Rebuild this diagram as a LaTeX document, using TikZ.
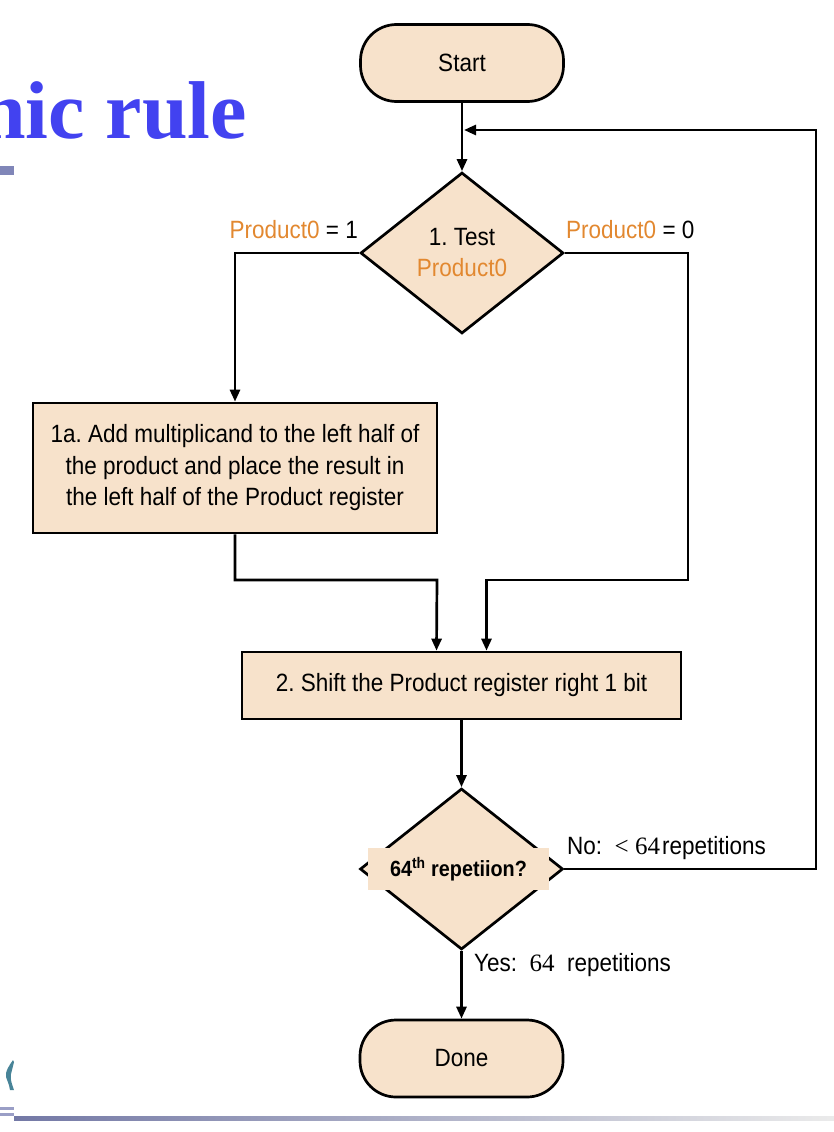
\documentclass[tikz,border=0pt]{standalone}
\usepackage{fontspec}
\setmainfont[FakeStretch=0.9]{Liberation Sans}
\newfontfamily\timesfont{Liberation Serif}
\usetikzlibrary{arrows.meta,shapes.geometric}
\frenchspacing

\definecolor{stepfill}{RGB}{247,226,203}
\definecolor{bitorange}{RGB}{226,136,48}
\definecolor{titleblue}{RGB}{66,66,240}
\definecolor{barlav}{RGB}{128,134,184}
\definecolor{quill}{RGB}{72,132,152}

\tikzset{
  flowline/.style={line width=2.7pt, draw=black},
  flowarrow/.style={flowline, -{Triangle[length=12pt,width=10pt]}},
  terminal/.style={draw=black, line width=2.7pt, fill=stepfill, rounded corners=36pt,
    minimum width=203pt, minimum height=77pt, inner sep=0pt,
    font=\fontsize{25}{30}\selectfont},
  stepbox/.style={draw=black, line width=2.7pt, fill=stepfill, inner sep=0pt,
    align=center, font=\fontsize{25}{31.5}\selectfont},
  decision/.style={diamond, draw=black, line width=2.7pt, fill=stepfill, inner sep=0pt,
    minimum width=203pt, minimum height=161pt, aspect=1.26, align=center,
    font=\fontsize{25}{31}\selectfont},
  branchlabel/.style={inner sep=0pt, font=\fontsize{25}{30}\selectfont},
}

\begin{document}
\begin{tikzpicture}[x=1pt, y=-1pt]
  \useasboundingbox (0,0) rectangle (834,1132);
  \clip (0,0) rectangle (834,1132);

  % slide decorations
  \node[anchor=base east, inner sep=0pt, text=titleblue,
        font=\timesfont\bfseries\fontsize{82}{82}\selectfont] (title) at (247,138) {nic rule};
  \fill[barlav] (0,166) rectangle (14,175);
  \fill[barlav!80] (0,1107) rectangle (14,1110);
  \fill[barlav!80] (0,1113) rectangle (14,1116);
  \shade[left color=barlav!90!black, right color=black!8] (14,1116) rectangle (834,1120);
  \fill[quill] (13,1060) .. controls (9,1066) and (5,1071) .. (6,1077)
     .. controls (7,1081) and (9,1083) .. (10,1090) -- (14,1090)
     .. controls (12,1084) and (10,1080) .. (11,1074) -- (14,1062) -- cycle;

  % flowchart nodes
  \node[terminal] (start) at (462,63) {Start};
  \node[decision] (test) at (462,253) {1. Test\\\textcolor{bitorange}{Product0}};
  \node[stepbox, minimum width=404pt, minimum height=130pt] (add) at (235,468)
    {1a. Add multiplicand to the left half of\\the product and place the result in\\the left half of the Product register};
  \node[stepbox, minimum width=439pt, minimum height=67pt] (shift) at (461.5,685.5)
    {2. Shift the Product register right 1 bit};
  \node[decision] (rep) at (461.5,869) {};
  \node[fill=stepfill, inner sep=0pt, minimum width=181pt, minimum height=42pt,
        font=\bfseries\fontsize{22}{24}\selectfont] (replabel) at (458.5,869)
    {64\textsuperscript{th} repetiion?};
  \node[terminal] (done) at (461.5,1058.5) {Done};

  % branch labels
  \node[branchlabel, anchor=east] (p1) at (358,230)
    {\textcolor{bitorange}{Product0} = 1};
  \node[branchlabel, anchor=west] (p0) at (566,230)
    {\textcolor{bitorange}{Product0} = 0};
  \node[branchlabel, anchor=west] (nolab) at (567,848)
    {No:\ \ {\timesfont <}\ {\timesfont 64}\kern2pt repetitions};
  \node[branchlabel, anchor=west] (yeslab) at (474,965)
    {Yes:\ \ {\timesfont 64}\ \ repetitions};

  % routing points
  \coordinate (rtop) at (688,580);
  \coordinate (ljoin) at (437,580);
  \coordinate (loopcorner) at (816,130);
  \coordinate (loopend) at (464,130);

  % connectors
  \draw[flowarrow] (start.south) -- (test.north);
  \draw[flowarrow] (test.west) -| (add.north);
  \draw[flowarrow] (test.east) -| (rtop) -| ([xshift=25pt]shift.north);
  \draw[flowarrow] (add.south) |- (ljoin) -- ([xshift=-25pt]shift.north);
  \draw[flowarrow] (shift.south) -- (rep.north);
  \draw[flowarrow] (rep.east) -| (loopcorner) -- (loopend);
  \draw[flowarrow] (rep.south) -- (done.north);
\end{tikzpicture}
\end{document}
